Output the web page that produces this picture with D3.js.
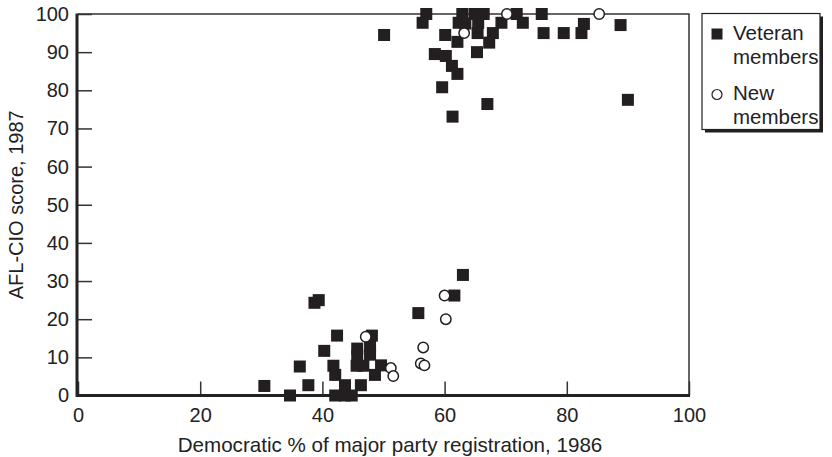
<!DOCTYPE html>
<html>
<head>
<meta charset="utf-8">
<script src="https://cdn.jsdelivr.net/npm/d3@7"></script>
<style>
  body { margin: 0; background: #fff; }
  svg { display: block; font-family: "Liberation Sans", Arial, sans-serif; }
</style>
</head>
<body>
<div id="chart"></div>
<script>
// data
const vetX = [50.1,56.4,57.0,58.4,60.2,60.1,61.2,62.1,59.6,61.3,62.1,62.3,63.4,62.9,64.9,66.4,65.5,65.4,65.3,67.9,67.3,67.0,69.3,71.8,72.8,75.9,76.2,79.5,82.4,82.8,88.8,90.0,
  30.5,34.7,36.3,37.7,38.7,39.4,40.3,41.8,42.1,42.4,42.1,43.7,43.7,44.8,45.7,45.7,45.6,46.7,46.3,47.8,47.8,48.1,48.6,49.6,55.7,61.6,63.0];
const vetY = [94.5,97.7,100,89.5,89.0,94.5,86.4,84.3,80.8,73.1,92.7,97.7,97.5,100,100,100,97.7,95,90,95,92.5,76.4,97.7,100,97.7,100,95,95,95,97.4,97.1,77.5,
  2.5,0,7.6,2.7,24.3,25.0,11.7,7.8,5.4,15.7,0,2.7,0,0,12.3,10.4,7.8,7.8,2.7,12.9,10.7,15.7,5.4,7.9,21.6,26.2,31.6];
const newX = [63.2,70.2,85.3,47.1,51.2,51.6,56.5,56.1,56.7,60.0,60.2];
const newY = [95,100,100,15.4,7.2,5.1,12.6,8.4,7.9,26.2,20.0];

const xTicks = [0,20,40,60,80,100];
const yTicks = [0,10,20,30,40,50,60,70,80,90,100];
const legendLabels = [['Veteran','members'],['New','members']];

const width = 832, height = 457;
const svg = d3.select('#chart').append('svg')
  .attr('width', width)
  .attr('height', height);

const x = d3.scaleLinear().domain([0,100]).range([78,689]);
const y = d3.scaleLinear().domain([0,100]).range([395.5,14]);

// top / right frame
svg.append('path')
  .attr('d', `M${x(0)},${y(100)}H${x(100)}V${y(0)}`)
  .attr('fill','none')
  .attr('stroke','#333')
  .attr('stroke-width',1.5);

//axes
const axisX = d3.axisBottom(x).tickValues(xTicks).tickSize(-14).tickPadding(12).tickSizeOuter(0);
const axisY = d3.axisLeft(y).tickValues(yTicks).tickSize(-14).tickPadding(9).tickSizeOuter(0);

const gx = svg.append('g')
  .attr('transform',`translate(0,${y(0)})`)
  .call(axisX);
const gy = svg.append('g')
  .attr('transform',`translate(${x(0)},0)`)
  .call(axisY);

[gx, gy].forEach(g => {
  g.select('.domain').remove();
  g.selectAll('line').attr('stroke','#333').attr('stroke-width',1.5);
  g.selectAll('text')
    .attr('fill','#222')
    .style('font-size','20px')
    .style('font-family','"Liberation Sans", Arial, sans-serif');
});

// thick left and bottom axis lines
svg.append('path')
  .attr('d', `M${x(0)-1},${y(100)-0.5}V${y(0)}H${x(100)+1}`)
  .attr('fill','none')
  .attr('stroke','#222')
  .attr('stroke-width',3);

// axis titles
svg.append('text')
  .attr('x', 390)
  .attr('y', 452)
  .attr('text-anchor','middle')
  .attr('fill','#222')
  .style('font-size','20.6px')
  .text('Democratic % of major party registration, 1986');

svg.append('text')
  .attr('transform', `translate(23,${(y(0)+y(100))/2}) rotate(-90)`)
  .attr('text-anchor','middle')
  .attr('fill','#222')
  .style('font-size','20px')
  .text('AFL-CIO score, 1987');

// marks
const sq = 12;
svg.append('g').selectAll('rect')
  .data(d3.range(vetX.length))
  .join('rect')
  .attr('x', i => x(vetX[i]) - sq/2)
  .attr('y', i => y(vetY[i]) - sq/2)
  .attr('width', sq)
  .attr('height', sq)
  .attr('fill','#231f20');

svg.append('g').selectAll('circle')
  .data(d3.range(newX.length))
  .join('circle')
  .attr('cx', i => x(newX[i]))
  .attr('cy', i => y(newY[i]))
  .attr('r', 5.2)
  .attr('fill','#fff')
  .attr('stroke','#231f20')
  .attr('stroke-width',1.5);

// legend
const lg = svg.append('g').attr('transform','translate(702,13.5)');
lg.append('rect').attr('x',3).attr('y',3).attr('width',118).attr('height',116).attr('fill','#231f20');
lg.append('rect').attr('x',0).attr('y',0).attr('width',118).attr('height',116)
  .attr('fill','#fff').attr('stroke','#231f20').attr('stroke-width',1.2);
lg.append('rect').attr('x',9.5).attr('y',15).attr('width',11).attr('height',11).attr('fill','#231f20');
lg.append('circle').attr('cx',15).attr('cy',81).attr('r',5)
  .attr('fill','#fff').attr('stroke','#231f20').attr('stroke-width',1.2);
legendLabels.forEach((lines, k) => {
  lines.forEach((t, j) => {
    lg.append('text')
      .attr('x', 31)
      .attr('y', 26 + k*60 + j*24.5)
      .attr('fill','#222')
      .style('font-size','20.5px')
      .text(t);
  });
});
</script>
</body>
</html>
